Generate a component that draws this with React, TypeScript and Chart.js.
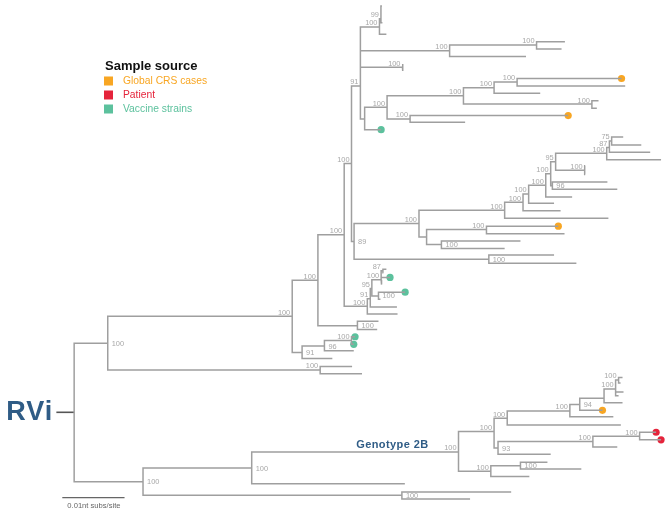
import React, { useEffect, useRef } from "react";
import { Chart, registerables } from "chart.js";

Chart.register(...registerables);

// Tree nodes: [id, parent, divergence (layout x), row (layout y), support, labelSide, source]
type TreeNode = [string, string, number, number, string, string, string];

const backbone: TreeNode[] = [
  ["R", "", 71, 414.75, "", "", ""],
  ["U1", "R", 105, 344.5, "100", "R", ""],
  ["A", "U1", 291.7, 317.3, "100", "L", ""],
  ["A1", "A", 317.7, 280.5, "100", "L", ""],
  ["B", "A1", 344.3, 234.3, "100", "L", ""],
  ["C", "B", 351.7, 162, "100", "L", ""],
  ["D", "C", 360.7, 83.3, "91", "L", ""],
  ["K", "C", 354.3, 241.2, "89", "R", ""],
  ["Lo", "R", 140.7, 485.3, "100", "R", ""],
  ["Lo1", "Lo", 250.7, 471.3, "100", "R", ""],
];

const cladeTop: TreeNode[] = [
  ["T1", "D", 380, 23.3, "100", "L", ""],
  ["T2", "T1", 381.5, 15, "99", "L", ""],
  ["", "T2", 382.5, 2, "", "", ""],
  ["", "T2", 383, 19, "", "", ""],
  ["", "T1", 387, 30.7, "", "", ""],
  ["E", "D", 451, 47.5, "100", "L", ""],
  ["E1", "E", 539, 41.7, "100", "L", ""],
  ["", "E1", 567.7, 38.3, "", "", ""],
  ["", "E1", 564.3, 45.7, "", "", ""],
  ["", "E", 528.3, 53.3, "", "", ""],
  ["F", "D", 403.3, 64.3, "100", "L", ""],
  ["", "F", 403.8, 61, "", "", ""],
  ["", "F", 403.8, 68, "", "", ""],
  ["G", "D", 365, 116.7, "", "", ""],
  ["H", "G", 387.7, 105, "100", "L", ""],
  ["I", "H", 465, 93.3, "100", "L", ""],
  ["I1", "I", 496, 85, "100", "L", ""],
  ["I2", "I1", 519.3, 79.3, "100", "L", ""],
  ["", "I2", 625, 75.7, "", "", "crs"],
  ["", "I2", 628.7, 83.3, "", "", ""],
  ["", "I1", 542.7, 90.7, "", "", ""],
  ["I3", "I", 595, 101.7, "100", "L", ""],
  ["", "I3", 601.7, 98.3, "", "", ""],
  ["", "I3", 600, 106, "", "", ""],
  ["J", "H", 411, 116.7, "100", "L", ""],
  ["", "J", 571, 113.3, "", "", "crs"],
  ["", "J", 466.7, 120, "", "", ""],
  ["", "G", 381.7, 127.7, "", "", "vaccine"],
];

const cladeMid: TreeNode[] = [
  ["L1", "K", 420, 223, "100", "L", ""],
  ["M", "L1", 506.7, 209.6, "100", "L", ""],
  ["M1", "M", 525.3, 201.5, "100", "L", ""],
  ["M2", "M1", 531, 193, "100", "L", ""],
  ["M3", "M2", 548.3, 184.2, "100", "L", ""],
  ["M4", "M3", 553.3, 172.4, "100", "L", ""],
  ["P95", "M4", 558.3, 160.3, "95", "L", ""],
  ["P100", "P95", 610, 151.7, "100", "L", ""],
  ["P87", "P100", 612.7, 145.7, "87", "L", ""],
  ["P75", "P87", 615, 139.2, "75", "L", ""],
  ["", "P75", 626.7, 135, "", "", ""],
  ["", "P75", 645, 143.3, "", "", ""],
  ["", "P87", 654, 150.7, "", "", ""],
  ["", "P100", 665, 158.3, "", "", ""],
  ["Q", "P95", 587.7, 169, "100", "L", ""],
  ["", "Q", 588.2, 164.3, "", "", ""],
  ["", "Q", 588.2, 173.3, "", "", ""],
  ["P96", "M4", 555, 184.5, "96", "R", ""],
  ["", "P96", 610.7, 180.7, "", "", ""],
  ["", "P96", 620.7, 188.3, "", "", ""],
  ["", "M3", 575, 196, "", "", ""],
  ["", "M2", 556.7, 202.5, "", "", ""],
  ["", "M1", 563.3, 210, "", "", ""],
  ["", "M", 611.7, 217.7, "", "", ""],
  ["N", "L1", 427.7, 236.6, "", "", ""],
  ["N1", "N", 488.3, 229, "100", "L", ""],
  ["", "N1", 561, 225.7, "", "", "crs"],
  ["", "N1", 567.3, 233.3, "", "", ""],
  ["N2", "N", 442.7, 244.3, "100", "R", ""],
  ["", "N2", 522.7, 240.7, "", "", ""],
  ["", "N2", 506.7, 248.3, "", "", ""],
  ["O", "K", 490.7, 259.3, "100", "R", ""],
  ["", "O", 556.7, 255, "", "", ""],
  ["", "O", 579.3, 263.3, "", "", ""],
];

const cladeVaccine: TreeNode[] = [
  ["G1", "B", 367.7, 307, "100", "L", ""],
  ["G2", "G1", 370.7, 299.3, "91", "L", ""],
  ["G3", "G2", 372.3, 289, "95", "L", ""],
  ["G4", "G3", 381.7, 280, "100", "L", ""],
  ["G5", "G4", 383.5, 271, "87", "L", ""],
  ["", "G5", 387, 269.5, "", "", ""],
  ["", "G5", 384, 273, "", "", ""],
  ["", "G4", 390.7, 277.7, "", "", "vaccine"],
  ["", "G4", 382.5, 285, "", "", ""],
  ["G6", "G3", 379, 296.5, "100", "R", ""],
  ["", "G6", 406, 292.7, "", "", "vaccine"],
  ["", "G6", 381, 300, "", "", ""],
  ["", "G2", 397.7, 307.7, "", "", ""],
  ["", "G1", 398.3, 315, "", "", ""],
  ["S", "A1", 357.7, 326.7, "100", "R", ""],
  ["", "S", 379, 322.3, "", "", ""],
  ["", "S", 377.7, 330.7, "", "", ""],
  ["V", "A", 301.7, 354, "91", "R", ""],
  ["V1", "V", 324.3, 347.5, "96", "R", ""],
  ["V2", "V1", 351.7, 341.8, "100", "L", ""],
  ["", "V2", 355.3, 338, "", "", "vaccine"],
  ["", "V2", 354, 345.7, "", "", "vaccine"],
  ["", "V1", 354, 352.3, "", "", ""],
  ["", "V", 332.3, 360, "", "", ""],
  ["W", "U1", 320, 371.7, "100", "L", ""],
  ["", "W", 352.3, 368.3, "", "", ""],
  ["", "W", 362.3, 375.7, "", "", ""],
];

const genotype2B: TreeNode[] = [
  ["X", "Lo1", 460, 455, "100", "L", ""],
  ["X1", "X", 496, 434.3, "100", "L", ""],
  ["X2", "X1", 509.3, 420.7, "100", "L", ""],
  ["X3", "X2", 572.7, 413.3, "100", "L", ""],
  ["X4", "X3", 582.7, 406.7, "94", "R", ""],
  ["Z", "X4", 607.3, 400.5, "", "", ""],
  ["Z1", "Z", 619, 391, "100", "L", ""],
  ["Z2", "Z1", 622, 382, "100", "L", ""],
  ["", "Z2", 626, 379.5, "", "", ""],
  ["", "Z2", 624, 385, "", "", ""],
  ["", "Z1", 627, 394, "", "", ""],
  ["", "Z1", 622, 398, "", "", ""],
  ["", "Z", 626, 405, "", "", ""],
  ["", "X4", 605.7, 412.7, "", "", "crs"],
  ["", "X3", 616.7, 419.3, "", "", ""],
  ["", "X2", 624.3, 427.7, "", "", ""],
  ["X5", "X1", 500, 451, "93", "R", ""],
  ["X6", "X5", 596, 444.3, "100", "L", ""],
  ["X7", "X6", 643.3, 439, "100", "L", ""],
  ["", "X7", 660, 435, "", "", "patient"],
  ["", "X7", 665, 442.7, "", "", "patient"],
  ["", "X6", 620.7, 450, "", "", ""],
  ["", "X5", 553.3, 457.3, "", "", ""],
  ["X8", "X", 492.7, 474.5, "100", "L", ""],
  ["X9", "X8", 522.7, 469, "100", "R", ""],
  ["", "X9", 550, 465.5, "", "", ""],
  ["", "X9", 584.3, 472.3, "", "", ""],
  ["", "X8", 531.7, 480, "", "", ""],
  ["", "Lo1", 405.7, 487.3, "", "", ""],
  ["Y", "Lo", 402.7, 499, "100", "R", ""],
  ["", "Y", 513.3, 495.7, "", "", ""],
  ["", "Y", 471.7, 502.7, "", "", ""],
];

const legendTitle = "Sample source";
const legendKeys = ["crs", "patient", "vaccine"];
const legendLabels = ["Global CRS cases", "Patient", "Vaccine strains"];
const legendColors = ["#F8A623", "#E5243B", "#5CC19D"];

const rootLabel = "RVi";
const rootStub = [53, 71];
const cladeLabel = "Genotype 2B";
const scaleBarX = [59, 122];
const scaleBarY = 501.5;
const scaleBarText = "0.01nt subs/site";

const FONT = '"Liberation Sans", Arial, Helvetica, sans-serif';

export default function App() {
  const ref = useRef<HTMLCanvasElement | null>(null);

  useEffect(() => {
    const canvas = ref.current;
    if (!canvas) return;
    const nodes = [...backbone, ...cladeTop, ...cladeMid, ...cladeVaccine, ...genotype2B];
    const byId: Record<string, TreeNode> = {};
    nodes.forEach((n) => {
      if (n[0]) byId[n[0]] = n;
    });

    const branchPts: any[] = [];
    nodes.forEach((n) => {
      const p = byId[n[1]];
      if (!p) return;
      branchPts.push({ x: p[2], y: p[3] });
      branchPts.push({ x: p[2], y: n[3] });
      branchPts.push({ x: n[2], y: n[3] });
      branchPts.push({ x: n[2], y: null });
    });

    const rootNode = byId["R"];
    const stubPts = [
      { x: rootStub[0], y: rootNode[3] },
      { x: rootStub[1], y: rootNode[3] },
    ];
    const scalePts = [
      { x: scaleBarX[0], y: scaleBarY },
      { x: scaleBarX[1], y: scaleBarY },
    ];

    const tips = nodes.filter((n) => n[6]);
    const tipPts = tips.map((n) => ({ x: n[2], y: n[3] }));
    const tipColors = tips.map((n) => legendColors[legendKeys.indexOf(n[6])]);

    const textPlugin = {
      id: "treeText",
      afterDatasetsDraw(chart: any) {
        const ctx = chart.ctx as CanvasRenderingContext2D;
        const xs = chart.scales.x;
        const ys = chart.scales.y;
        const px = (v: number) => xs.getPixelForValue(v);
        const py = (v: number) => ys.getPixelForValue(v);
        ctx.save();
        // support values
        ctx.fillStyle = "#a8a8a8";
        ctx.font = `7.4px ${FONT}`;
        nodes.forEach((n) => {
          if (!n[4]) return;
          if (n[5] === "L") {
            ctx.textAlign = "right";
            ctx.textBaseline = "alphabetic";
            ctx.fillText(n[4], px(n[2]) - 2, py(n[3]) - 1.6);
          } else {
            ctx.textAlign = "left";
            ctx.textBaseline = "middle";
            ctx.fillText(n[4], px(n[2]) + 4, py(n[3]) + 0.5);
          }
        });
        // root label
        ctx.fillStyle = "#2F5C86";
        ctx.font = `bold 27px ${FONT}`;
        (ctx as any).letterSpacing = "1px";
        ctx.textAlign = "right";
        ctx.textBaseline = "middle";
        ctx.fillText(rootLabel, px(rootStub[0]) - 3, py(rootNode[3]) + 0.5);
        // clade label
        const xn = byId["X"];
        ctx.font = `bold 11px ${FONT}`;
        (ctx as any).letterSpacing = "0.4px";
        ctx.textAlign = "right";
        ctx.textBaseline = "alphabetic";
        ctx.fillText(cladeLabel, px(xn[2]) - 30, py(xn[3]) - 3.5);
        (ctx as any).letterSpacing = "0px";
        // scale bar text
        ctx.fillStyle = "#666";
        ctx.font = `7.6px ${FONT}`;
        ctx.textAlign = "center";
        ctx.textBaseline = "middle";
        ctx.fillText(scaleBarText, (px(scaleBarX[0]) + px(scaleBarX[1])) / 2 + 0.5, py(scaleBarY) + 8.5);
        // legend
        ctx.fillStyle = "#111";
        ctx.font = `bold 13px ${FONT}`;
        ctx.textAlign = "left";
        ctx.textBaseline = "middle";
        ctx.fillText(legendTitle, 105, 66);
        ctx.font = `10.3px ${FONT}`;
        legendLabels.forEach((lab, i) => {
          const cy = 81 + i * 14;
          ctx.fillStyle = legendColors[i];
          ctx.fillRect(104, cy - 4.5, 9, 9);
          ctx.fillText(lab, 123, cy + 0.5);
        });
        ctx.restore();
      },
    };

    const chart = new Chart(canvas, {
      type: "scatter",
      data: {
        datasets: [
          {
            data: branchPts,
            showLine: true,
            borderColor: "#9f9f9f",
            borderWidth: 1.5,
            pointRadius: 0,
            spanGaps: false,
            borderJoinStyle: "miter",
            borderCapStyle: "butt",
            clip: false as any,
          } as any,
          {
            data: stubPts,
            showLine: true,
            borderColor: "#555",
            borderWidth: 1.6,
            pointRadius: 0,
          },
          {
            data: scalePts,
            showLine: true,
            borderColor: "#666",
            borderWidth: 1.2,
            pointRadius: 0,
          },
          {
            data: tipPts,
            showLine: false,
            pointRadius: 3.6,
            pointBackgroundColor: tipColors,
            pointBorderWidth: 0,
            pointBorderColor: tipColors,
          },
        ],
      },
      options: {
        animation: false,
        responsive: false,
        maintainAspectRatio: false,
        devicePixelRatio: 1,
        layout: { padding: 0 },
        events: [],
        scales: {
          x: { type: "linear", min: 0, max: 670, display: false },
          y: { type: "linear", min: 0, max: 515, reverse: true, display: false },
        },
        plugins: { legend: { display: false }, tooltip: { enabled: false } },
      },
      plugins: [textPlugin],
    });
    return () => chart.destroy();
  }, []);

  return (
    <div style={{ position: "absolute", left: 0, top: 0, width: 670, height: 515, background: "#fff" }}>
      <canvas ref={ref} width={670} height={515} style={{ width: 670, height: 515, display: "block" }} />
    </div>
  );
}
